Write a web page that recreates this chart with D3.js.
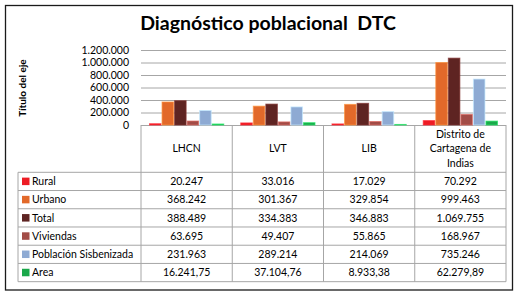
<!DOCTYPE html>
<html>
<head>
<meta charset="utf-8">
<script src="https://cdn.jsdelivr.net/npm/d3@7"></script>
<style>
  body { margin: 0; background: #fff; }
  svg text { font-family: Lato, "Open Sans", sans-serif; fill: #000; }
</style>
</head>
<body>
<svg class="chart" width="520" height="297"></svg>
<script>
const categories = ["LHCN", "LVT", "LIB", "Distrito de Cartagena de Indias"]
const categoryLines = [["LHCN"], ["LVT"], ["LIB"], ["Distrito de", "Cartagena de", "Indias"]]
const series = ["Rural", "Urbano", "Total", "Viviendas", "Población Sisbenizada", "Area"]
const colors = ["#ed1c24", "#e2692a", "#5e2422", "#a24c47", "#8eaad3", "#1aa84a"]

const rural = [20247, 33016, 17029, 70292]
const urbano = [368242, 301367, 329854, 999463]
const total = [388489, 334383, 346883, 1069755]
const viviendas = [63695, 49407, 55865, 168967]
const sisben = [231963, 289214, 214069, 735246]
const area = [16241.75, 37104.76, 8933.38, 62279.89]
const yTicks = [0, 200000, 400000, 600000, 800000, 1000000, 1200000]

const values = [rural, urbano, total, viviendas, sisben, area]

const es = d3.formatLocale({ decimal: ",", thousands: ".", grouping: [3], currency: ["", ""] })
const fmtInt = es.format(",d")
const fmtDec = es.format(",.2f")

const svg = d3.select("svg.chart")

// outer frame
svg.append("rect")
    .attr("x", 5.5).attr("y", 5.5)
    .attr("width", 507).attr("height", 284.5)
    .attr("fill", "none")
    .attr("stroke", "#1a1a1a")
    .attr("stroke-width", 1.3)

svg.append("text")
    .attr("x", 268).attr("y", 30)
    .attr("text-anchor", "middle")
    .attr("font-size", 19.5)
    .attr("font-weight", "bold")
    .style("white-space", "pre")
    .text("Diagnóstico poblacional  DTC")

const plotLeft = 141, plotRight = 506, plotTop = 50, base = 125
const x = d3.scaleBand().domain(categories).range([plotLeft, plotRight])
const xs = d3.scaleBand().domain(series).range([8, x.bandwidth() - 8])
const y = d3.scaleLinear().domain([0, 1200000]).range([base, plotTop])

// gridlines
svg.append("g")
    .attr("transform", `translate(${plotLeft},0)`)
    .call(d3.axisLeft(y).tickValues(yTicks).tickSize(-(plotRight - plotLeft)).tickFormat(""))
    .call(g => g.select(".domain").remove())
    .call(g => g.selectAll("line").attr("stroke", "#a6a6a6").attr("stroke-width", 1))

// tick labels
svg.append("g")
    .attr("transform", `translate(129,0)`)
    .call(d3.axisLeft(y).tickValues(yTicks).tickSize(0).tickPadding(0).tickFormat(fmtInt))
    .call(g => g.select(".domain").remove())
    .call(g => g.selectAll("text").attr("font-size", 10.5).attr("font-family", "Lato, sans-serif").attr("fill", "#000"))

svg.append("text")
    .attr("transform", "translate(26,88) rotate(-90)")
    .attr("text-anchor", "middle")
    .attr("font-size", 10)
    .attr("font-weight", "bold")
    .text("Título del eje")

// bars
const groups = svg.append("g").selectAll("g")
    .data(categories)
    .join("g")
    .attr("transform", d => `translate(${x(d)},0)`)

groups.selectAll("rect")
    .data((c, i) => series.map((s, j) => ({ s: s, v: values[j][i], color: colors[j] })))
    .join("rect")
    .attr("x", d => xs(d.s) + 0.5)
    .attr("y", d => y(d.v))
    .attr("width", xs.bandwidth() - 1)
    .attr("height", d => base - y(d.v))
    .attr("fill", d => d.color)
    .attr("stroke", d => d3.color(d.color).brighter(0.9))
    .attr("stroke-opacity", 0.7)
    .attr("stroke-width", 1)

// data table
const tLeft = 18, headBottom = 172.3, rowH = 18.23
const tBottom = headBottom + rowH * series.length
const lineColor = "#a6a6a6"
const table = svg.append("g").attr("stroke", lineColor).attr("stroke-width", 1)

x.domain().concat([null]).forEach(c => {
    const xx = c === null ? plotRight : x(c)
    table.append("line").attr("x1", xx).attr("x2", xx).attr("y1", base).attr("y2", tBottom)
})
table.append("line").attr("x1", tLeft).attr("x2", tLeft).attr("y1", headBottom).attr("y2", tBottom)
d3.range(series.length + 1).forEach(i => {
    const yy = headBottom + i * rowH
    table.append("line").attr("x1", tLeft).attr("x2", plotRight).attr("y1", yy).attr("y2", yy)
})

categories.forEach((c, i) => {
    const lines = categoryLines[i]
    const mid = (base + headBottom) / 2
    lines.forEach((ln, k) => {
        svg.append("text")
            .attr("x", x(c) + x.bandwidth() / 2)
            .attr("y", mid + (k - (lines.length - 1) / 2) * 14.3)
            .attr("dy", "0.35em")
            .attr("text-anchor", "middle")
            .attr("font-size", 10.5)
            .text(ln)
    })
})

series.forEach((s, j) => {
    const cy = headBottom + rowH * (j + 0.5)
    svg.append("rect")
        .attr("x", 22).attr("y", cy - 3.8)
        .attr("width", 7.5).attr("height", 7.5)
        .attr("fill", colors[j])
    svg.append("text")
        .attr("x", 32).attr("y", cy).attr("dy", "0.35em")
        .attr("font-size", 10.5)
        .text(s)
    categories.forEach((c, i) => {
        const v = values[j][i]
        svg.append("text")
            .attr("x", x(c) + x.bandwidth() / 2)
            .attr("y", cy).attr("dy", "0.35em")
            .attr("text-anchor", "middle")
            .attr("font-size", 10.5)
            .text(s === "Area" ? fmtDec(v) : fmtInt(v))
    })
})
</script>
</body>
</html>
